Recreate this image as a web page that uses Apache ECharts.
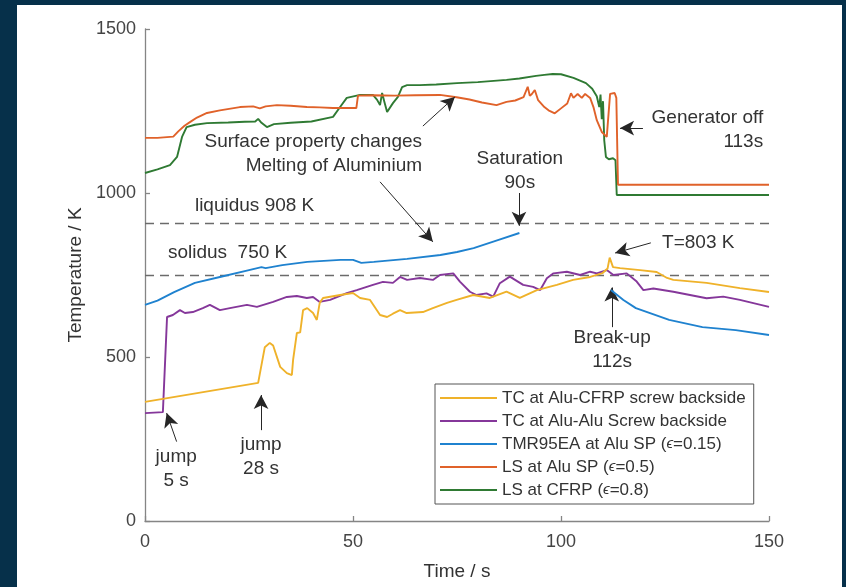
<!DOCTYPE html>
<html>
<head>
<meta charset="utf-8">
<script src="https://cdn.jsdelivr.net/npm/echarts@6/dist/echarts.min.js"></script>
<style>
  html, body { margin: 0; padding: 0; width: 846px; height: 587px; overflow: hidden; background: #06304a; }
  #panel { position: absolute; left: 17px; top: 5px; width: 825px; height: 582px; background: #ffffff; }
  #chart { position: absolute; left: 0; top: 0; width: 846px; height: 587px; }
</style>
</head>
<body>
<div id="panel"></div>
<div id="chart"></div>
<script>
// Axis ranges (s, K)
const timeRange = [0, 150, 50];
const tempRange = [0, 1500, 500];

// Series names as shown in the legend
const seriesNames = [
  'TC at Alu-CFRP screw backside',
  'TC at Alu-Alu Screw backside',
  'TMR95EA at Alu SP (ϵ=0.15)',
  'LS at Alu SP (ϵ=0.5)',
  'LS at CFRP (ϵ=0.8)'
];
const seriesColors = ['#efb22a', '#85379a', '#1f82cf', '#e0622a', '#2f7a33'];

// [time s, temperature K]
const tcAluCfrp = [
  [0,363],[27.2,421],[28.8,530],[30,543],[30.8,535],[32.5,470],[34.1,451],[35.3,445],[35.6,491],
  [36.5,573],[37.3,575],[38,643],[39,649],[40.4,634],[41.3,613],[42,665],[42.8,680],[46.9,689],
  [50,695],[51.7,680],[54.1,674],[56.5,628],[58.2,622],[59.6,632],[61.3,643],[62.9,634],[66.8,637],
  [69.2,649],[72.6,665],[74.9,674],[78.9,689],[82.9,680],[86.9,699],[90.1,680],[94.2,704],[99,720],
  [102.9,735],[107,744],[110,756],[111.2,770],[111.7,803],[112.5,774],[114.2,771],[119,765],
  [123,759],[125.5,741],[127,735],[135,726],[143,710],[150,698]
];

const tcAluAlu = [
  [0,329],[4.3,332],[5.3,622],[6.7,628],[8.4,643],[9.6,634],[11.5,637],[13.9,649],[15.6,659],
  [18,643],[20.4,649],[24.5,659],[26.9,653],[30.8,668],[34.1,683],[36.5,686],[38.9,680],[40.4,683],
  [42,668],[44.5,674],[48.5,695],[50.9,704],[54.8,720],[57.2,729],[59.6,726],[61.3,744],[63,735],
  [66.1,741],[69.2,735],[70.9,750],[74.1,755],[75.7,730],[78.1,699],[79.7,689],[82.1,694],
  [83.7,684],[85.3,725],[87.7,745],[90.9,720],[93.3,714],[95,704],[96.6,740],[98.2,755],
  [101.4,760],[104.6,750],[107,760],[108.6,755],[111,765],[112.6,750],[115.8,755],[118.2,730],
  [119.8,704],[122.2,709],[127,699],[131,689],[135,679],[139,684],[143,674],[150,653]
];

const tmrAluSp = [
  [0,659],[3,672],[7,698],[12,726],[18,744],[25,765],[28,774],[29,771],[33,780],[39,790],
  [47,796],[50,796],[52,787],[55,790],[63,799],[71,811],[75,820],[79,832],[85,857],[90,878],
  null,
  [112,704],[115,674],[118,649],[126,613],[134,591],[142,582],[150,567]
];

const lsAluSp = [
  [0,1168],[3,1168],[6.8,1172],[8,1188],[9.5,1205],[10.8,1216],[12.5,1230],[14.9,1244],[18,1252],
  [22.8,1262],[26,1264],[27.6,1258],[29,1264],[31.7,1268],[35,1266],[38.9,1262],[42,1261],
  [45.2,1259],[50.8,1259],[51.2,1297],[55,1298],[60,1297],[65,1298],[70.9,1299],[74.9,1292],
  [78,1285],[81,1276],[84.5,1268],[86.9,1278],[89,1282],[91,1292],[92,1324],[92.5,1296],[93,1302],
  [93.7,1314],[94.5,1283],[96,1262],[97,1252],[98.5,1243],[100,1258],[101.5,1273],[102.4,1304],
  [103,1290],[104,1302],[105,1290],[105.8,1302],[107,1290],[107.8,1262],[108.6,1222],[109.8,1186],
  [111,1171],[111.4,1177],[111.8,1302],[112.9,1305],[113.3,1290],[113.7,1025],[150,1025]
];

const lsCfrp = [
  [0,1061],[3,1072],[6,1085],[7.7,1110],[8.9,1171],[10,1201],[12,1208],[14.9,1213],[20,1215],
  [24,1217],[26.5,1218],[27.2,1226],[28,1214],[29.3,1201],[31,1210],[35,1214],[40,1218],
  [45.2,1232],[46.9,1262],[48.5,1290],[51.7,1299],[54.8,1299],[55.8,1284],[56.5,1268],[57,1305],
  [57.5,1280],[58.2,1247],[59.6,1274],[60.8,1293],[61.8,1323],[63,1329],[66,1329],[70,1331],
  [75,1335],[80,1338],[86.9,1345],[90,1349],[94,1357],[96,1360],[98,1363],[100,1362],[103,1351],
  [106,1335],[107.5,1318],[108.6,1295],[109.2,1262],[109.5,1300],[109.8,1225],[110.1,1280],
  [110.4,1160],[110.8,1110],[111.5,1103],[112.5,1106],[113.1,1100],[113.4,994],[150,994]
];

const seriesData = [tcAluCfrp, tcAluAlu, tmrAluSp, lsAluSp, lsCfrp];

// Phase-change reference temperatures (K)
const liquidusT = 908;
const solidusT = 750;

// Arrows: [tail time, tail temp], [head time, head temp]
const arrowTails = [[66.8,1204],[56.5,1034],[89.9,1000],[119.7,1198],[121.6,848],[112.2,591],[7.6,242],[27.9,277]];
const arrowHeads = [[74.5,1293],[69.2,851],[89.9,900],[114.2,1198],[113.0,817],[112.2,712],[5.2,329],[27.9,384]];

// Annotation texts with anchor [time, temp] and horizontal alignment
const noteTexts = [
  'Surface property changes\nMelting of Aluminium',
  'liquidus 908 K',
  'solidus  750 K',
  'Saturation\n90s',
  'Generator off\n113s',
  'T=803 K',
  'Break-up\n112s',
  'jump\n5 s',
  'jump\n28 s'
];
const noteAnchors = [[66.6,1120],[12.0,960],[5.5,817],[90.1,1069],[148.6,1192],[124.3,848],[112.3,523],[7.5,160],[27.9,197]];
const noteAligns = ['right','left','left','center','right','left','center','center','center'];

const FONT = "'Liberation Sans', Arial, Helvetica, sans-serif";

const chart = echarts.init(document.getElementById('chart'));

const series = seriesData.map((d, i) => ({
  name: seriesNames[i],
  type: 'line',
  data: d,
  symbol: 'none',
  showSymbol: false,
  connectNulls: false,
  silent: true,
  lineStyle: { color: seriesColors[i], width: 1.9 },
  itemStyle: { color: seriesColors[i] },
  z: 3 + (4 - i)
}));

series.push({
  name: 'refLines',
  type: 'line',
  data: [],
  silent: true,
  markLine: {
    silent: true,
    symbol: ['none', 'none'],
    label: { show: false },
    lineStyle: { color: '#6b6b6b', width: 1.4, type: [9, 6] },
    data: [{ yAxis: liquidusT }, { yAxis: solidusT }]
  }
});

series.push({
  name: 'arrows',
  type: 'line',
  data: [],
  silent: true,
  z: 10,
  markLine: {
    silent: true,
    symbol: ['none', 'arrow'],
    symbolSize: [11, 14],
    label: { show: false },
    lineStyle: { color: '#262626', width: 1, type: 'solid' },
    data: arrowTails.map((a, i) => [{ coord: a }, { coord: arrowHeads[i] }])
  }
});

const axisCommon = {
  type: 'value',
  nameLocation: 'middle',
  nameTextStyle: { fontSize: 19, color: '#333', fontFamily: FONT },
  axisLine: { show: true, lineStyle: { color: '#858585', width: 1.3 } },
  axisTick: { show: true, inside: true, length: 5, lineStyle: { color: '#858585', width: 1.3 } },
  splitLine: { show: false }
};

chart.setOption({
  animation: false,
  grid: { left: 145, right: 77, top: 29, bottom: 66, containLabel: false },
  xAxis: Object.assign({}, axisCommon, {
    min: timeRange[0], max: timeRange[1], interval: timeRange[2],
    name: 'Time / s',
    nameGap: 41,
    axisLabel: { fontSize: 18, color: '#444', fontFamily: FONT, margin: 12, showMinLabel: true, showMaxLabel: true, formatter: v => String(v) }
  }),
  yAxis: Object.assign({}, axisCommon, {
    min: tempRange[0], max: tempRange[1], interval: tempRange[2],
    name: 'Temperature / K',
    nameGap: 55,
    axisLabel: { fontSize: 18, color: '#444', fontFamily: FONT, margin: 9, showMinLabel: true, showMaxLabel: true, formatter: v => String(v) }
  }),
  legend: {
    data: seriesNames,
    orient: 'vertical',
    left: 435,
    top: 384,
    padding: [5, 8, 5, 5],
    itemGap: 5,
    itemWidth: 57,
    itemHeight: 2,
    icon: 'rect',
    backgroundColor: '#ffffff',
    borderColor: '#555',
    borderWidth: 1,
    borderRadius: 0,
    selectedMode: false,
    formatter: name => name.replace('ϵ', '{e|ϵ}'),
    textStyle: {
      fontSize: 17, color: '#333', fontFamily: FONT, lineHeight: 18,
      rich: { e: { fontSize: 15, fontStyle: 'italic', color: '#333', fontFamily: FONT } }
    }
  },
  series: series
});

// Place annotation texts in data coordinates
const graphics = noteTexts.map((txt, i) => {
  const p = chart.convertToPixel({ gridIndex: 0 }, noteAnchors[i]);
  return {
    type: 'text',
    x: p[0],
    y: p[1],
    silent: true,
    z: 20,
    style: {
      text: txt,
      fill: '#333',
      font: '19px ' + FONT,
      align: noteAligns[i],
      verticalAlign: 'middle',
      lineHeight: 24
    }
  };
});
chart.setOption({ graphic: graphics });
</script>
</body>
</html>
